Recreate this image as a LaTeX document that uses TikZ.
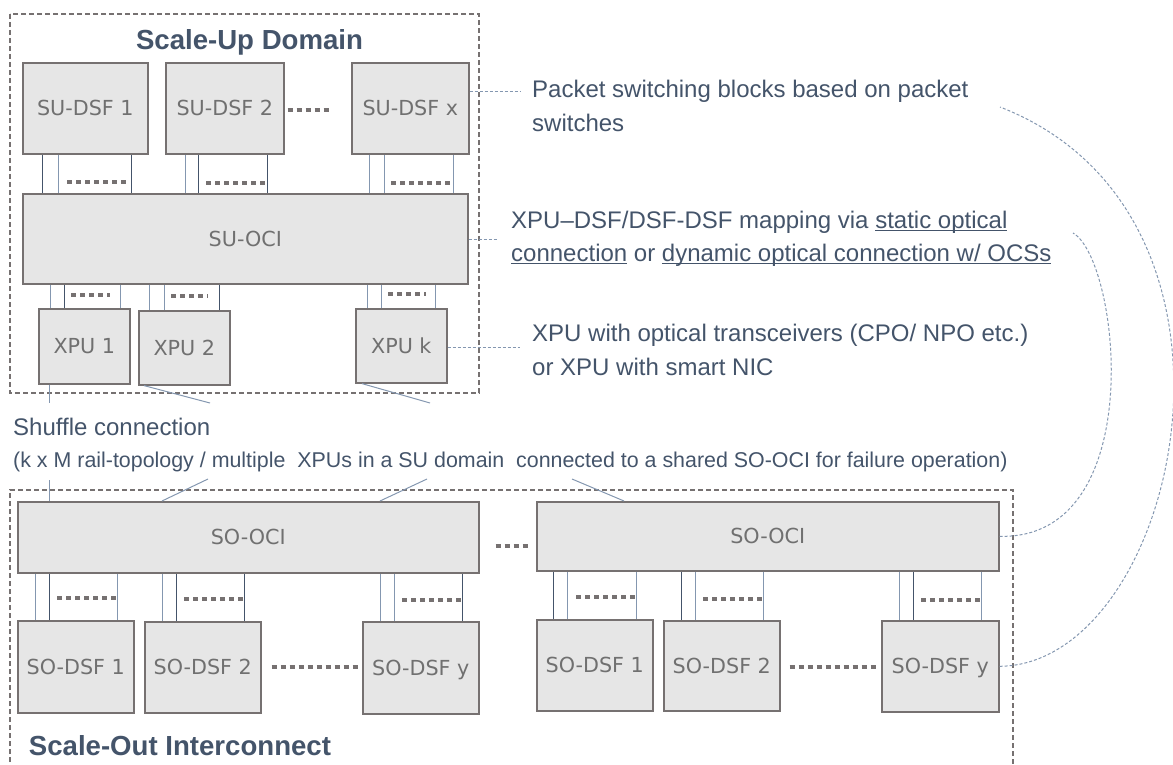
\documentclass[tikz,border=0pt]{standalone}
\usepackage{fontspec}
\setmainfont{Liberation Sans}
\newfontfamily\lblfont{DejaVu Sans}
\usetikzlibrary{calc,backgrounds}

\definecolor{ink}{HTML}{44546A}
\definecolor{inkl}{HTML}{8497B0}
\definecolor{boxfill}{HTML}{E6E6E6}
\definecolor{boxline}{HTML}{767171}
\definecolor{lbl}{HTML}{707070}

% underline that crosses the descenders, drawn in the text colour
\newcommand\ulx[1]{\setbox0\hbox{#1}\leavevmode\rlap{\color{ink}\rule[-2.6pt]{\wd0}{1pt}}\box0}

\tikzset{
  blk/.style={draw=boxline, line width=1.6pt, fill=boxfill, inner sep=0pt,
    anchor=north west, text=lbl, text height=15pt, text depth=0pt,
    font=\lblfont\fontsize{20.7}{24}\selectfont},
  lnk/.style={ink, line width=0.9pt},
  lnkl/.style={inkl, line width=0.9pt},
  dots/.style={boxline, line width=4pt, dash pattern=on 5pt off 4pt},
  dombox/.style={boxline, line width=1.3pt, dash pattern=on 5pt off 3pt},
  lead/.style={inkl, line width=1pt, dash pattern=on 3pt off 2pt},
  note/.style={text=ink, inner sep=0pt, anchor=base west, align=left,
    font=\fontsize{24}{33.5}\selectfont},
  ttl/.style={text=ink, inner sep=0pt, font=\bfseries\fontsize{27.6}{32}\selectfont},
  shuf/.style={inkl, line width=1pt},
}

% vertical links between a small box (#1) and its interconnect (#2)
\newcommand\bus[3]{%
  \foreach \o/\s in {#3}{%
    \path ($(#1.west)+(\o,0)$) coordinate (t);
    \draw[\s] (t) -- (t |- #2.center);
  }}
% a row of square dots: anchor, x from, x to, y offset
\newcommand\dotrow[4]{\draw[dots] ($(#1)+(#2,#4)$) -- ($(#1)+(#3,#4)$);}

\begin{document}
\begin{tikzpicture}[x=1pt, y=-1pt]
\useasboundingbox (0,0) rectangle (1173,765);

% ---------------- Scale-Up domain ----------------
\draw[dombox] (10,14) rectangle (479,393);
\node[ttl, anchor=base] (sut) at (249.5,50) {Scale-Up Domain};

\node[blk, minimum width=125pt, minimum height=91pt] (su1) at (22,62) {SU-DSF 1};
\node[blk, minimum width=118pt, minimum height=91pt] (su2) at (165,62) {SU-DSF 2};
\node[blk, minimum width=117pt, minimum height=91pt] (sux) at (351,62) {SU-DSF x};
\node[blk, minimum width=445pt, minimum height=90pt] (suoci) at (22,193) {SU-OCI};
\node[blk, minimum width=91pt, minimum height=75pt] (xpu1) at (38,308) {XPU 1};
\node[blk, minimum width=91pt, minimum height=74pt] (xpu2) at (138,310) {XPU 2};
\node[blk, minimum width=91pt, minimum height=74pt] (xpuk) at (355,308) {XPU k};

% ---------------- Scale-Out interconnect ----------------
\draw[dombox] (10,770) -- (10,490) -- (1013,490) -- (1013,770);
\node[ttl, anchor=base west] (sot) at (28.7,755) {Scale-Out Interconnect};

\node[blk, minimum width=461pt, minimum height=71pt] (sooci1) at (17,501) {SO-OCI};
\node[blk, minimum width=462pt, minimum height=69pt] (sooci2) at (536,501) {SO-OCI};

\node[blk, minimum width=116pt, minimum height=92pt] (sd11) at (17,620) {SO-DSF 1};
\node[blk, minimum width=116pt, minimum height=91pt] (sd12) at (144,621) {SO-DSF 2};
\node[blk, minimum width=116pt, minimum height=92pt] (sd1y) at (362,621) {SO-DSF y};
\node[blk, minimum width=116pt, minimum height=91pt] (sd21) at (536,619) {SO-DSF 1};
\node[blk, minimum width=116pt, minimum height=90pt] (sd22) at (663,620) {SO-DSF 2};
\node[blk, minimum width=117pt, minimum height=91pt] (sd2y) at (881,620) {SO-DSF y};

% links hidden behind the filled boxes
\begin{pgfonlayer}{background}
  \bus{su1}{suoci}{20.5/lnk, 36/lnkl, 109.5/lnk}
  \bus{su2}{suoci}{20/lnkl, 33.5/lnk, 102.5/lnk}
  \bus{sux}{suoci}{18.5/lnkl, 33/lnkl, 102/lnkl}
  \bus{xpu1}{suoci}{12/lnkl, 26/lnk, 82/lnkl}
  \bus{xpu2}{suoci}{11.7/lnkl, 26/lnkl, 81/lnk}
  \bus{xpuk}{suoci}{12/lnkl, 26/lnkl, 80/lnkl}
  \bus{sd11}{sooci1}{18/lnkl, 32/lnk, 100/lnkl}
  \bus{sd12}{sooci1}{18/lnkl, 32/lnk, 100/lnk}
  \bus{sd1y}{sooci1}{18/lnkl, 32/lnkl, 100/lnk}
  \bus{sd21}{sooci2}{17/lnk, 31/lnkl, 100/lnkl}
  \bus{sd22}{sooci2}{18/lnk, 32/lnkl, 100/lnkl}
  \bus{sd2y}{sooci2}{18/lnkl, 32/lnk, 100/lnkl}
\end{pgfonlayer}

% dot rows between the links
\dotrow{su1.south west}{45}{107}{27}
\dotrow{su2.south west}{41}{102}{28}
\dotrow{sux.south west}{40}{102}{28}
\dotrow{xpu1.north west}{33}{72}{-13}
\dotrow{xpu2.north west}{33}{70}{-14}
\dotrow{xpuk.north west}{33}{71}{-14}
\dotrow{sd11.north west}{40}{100}{-22}
\dotrow{sd12.north west}{40}{100}{-22}
\dotrow{sd1y.north west}{40}{100}{-21}
\dotrow{sd21.north west}{40}{100}{-22}
\dotrow{sd22.north west}{40}{100}{-21}
\dotrow{sd2y.north west}{40}{100}{-20}

% dot rows between boxes
\dotrow{su2.east}{3}{45}{1.5}
\dotrow{sooci1.east}{16}{48}{8.5}
\dotrow{sd12.east}{10}{98}{0}
\dotrow{sd22.east}{9}{98}{1}

% ---------------- annotations (base = baseline of the last line) ----------------
\node[note] (pk) at (532,131.5) {Packet switching blocks based on packet\\switches};
\node[note] (map) at (511,261.5) {XPU–DSF/DSF-DSF mapping via \ulx{static optical}\\\ulx{connection}\ or \ulx{dynamic optical connection w/ OCSs}};
\node[note] (xn) at (532,375) {XPU with optical transceivers (CPO/ NPO etc.)\\or XPU with smart NIC};

\coordinate (pkL) at (520,92);
\coordinate (mapL) at (498,239);
\coordinate (xnL) at (520,347);
\draw[lead] (sux.east |- pkL) -- (pkL);
\draw[lead] (suoci.east |- mapL) -- (mapL);
\draw[lead] (xpuk.east |- xnL) -- (xnL);

\coordinate (pkC) at (1000,107);
\coordinate (mapC) at (1073,233);
\draw[lead] (sd2y.east) .. controls (1178,665) and (1280,216) .. (pkC);
\draw[lead] (sooci2.east) .. controls (1150,540) and (1120,260) .. (mapC);

% ---------------- shuffle connection ----------------
\node[note] (shA) at (13,435.5) {Shuffle connection};
\node[note, font=\fontsize{21.4}{26}\selectfont] (shB) at (13,467)
  {(k x M rail-topology / multiple\ \ XPUs in a SU domain\ \ connected to a shared SO-OCI for failure operation)};

\coordinate (s1a) at (49,403);
\coordinate (s2a) at (210,403);
\coordinate (s3a) at (430,403);
\draw[shuf] (xpu1.south -| s1a) -- (s1a);
\draw[shuf] ($(xpu2.south west)+(6,0)$) -- (s2a);
\draw[shuf] ($(xpuk.south west)+(7,0)$) -- (s3a);

\coordinate (s1b) at (49,480);
\coordinate (s2b) at (208,479);
\coordinate (s3b) at (427,479);
\coordinate (s4b) at (572,479);
\draw[shuf] (s1b) -- (s1b |- sooci1.north);
\draw[shuf] (s2b) -- ($(sooci1.north west)+(145,0)$);
\draw[shuf] (s3b) -- ($(sooci1.north west)+(363,0)$);
\draw[shuf] (s4b) -- ($(sooci2.north west)+(88,0)$);
\end{tikzpicture}
\end{document}
